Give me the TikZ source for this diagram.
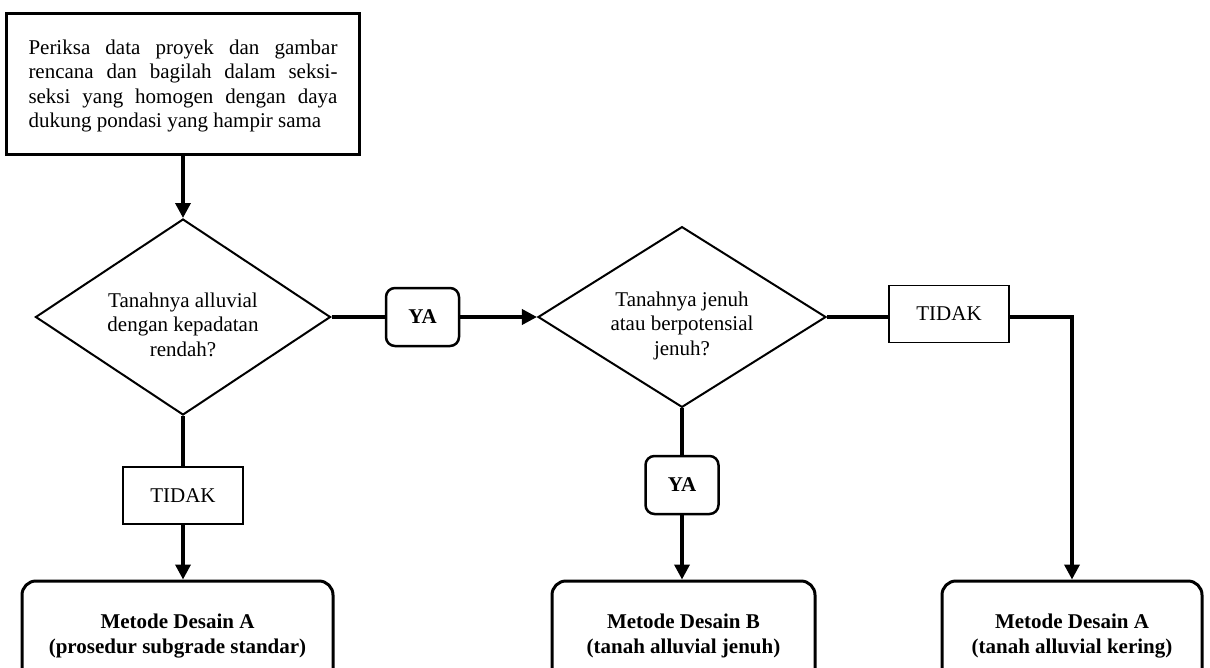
\documentclass[tikz,border=0pt]{standalone}
\usepackage{fontspec}
\setmainfont{Liberation Serif}
\usetikzlibrary{shapes.geometric}
\usetikzlibrary{arrows.meta}

\begin{document}
\begin{tikzpicture}[x=1pt, y=-1pt,
    font=\fontsize{21}{24.5}\selectfont,
    kotak/.style={rectangle, draw, line width=3pt, inner sep=0pt},
    keputusan/.style={diamond, draw, line width=2pt, aspect=1.5, inner sep=0pt, align=center},
    ya/.style={rectangle, draw, rounded corners=9pt, line width=2.5pt, minimum width=73pt, minimum height=58pt, font=\fontsize{21}{24.5}\selectfont\bfseries},
    tidak/.style={rectangle, draw, line width=1.5pt, minimum width=120pt, minimum height=57pt},
    hasil/.style={rectangle, draw, rounded corners=14pt, line width=3pt, align=center, minimum height=110pt, font=\fontsize{21}{24.5}\selectfont\bfseries},
    alur/.style={line width=3.5pt},
    panah/.style={alur, -{Triangle[length=15pt,width=15pt]}}]
\useasboundingbox (0,0) rectangle (1210,667);
\clip (0,0) rectangle (1210,667);

\node[kotak, minimum width=353pt, minimum height=141pt, text width=309pt, align=justify] (cek) at ( 183, 83.5 )
    {\tolerance=9999 \rule{0pt}{20pt}Periksa data proyek dan gambar\linebreak rencana dan bagilah dalam seksi-\linebreak seksi yang homogen dengan daya\linebreak dukung pondasi yang hampir sama};
\node[keputusan, minimum width=295pt, minimum height=196pt] (kep1) at ( 183, 317 )
    {\rule{0pt}{30pt}Tanahnya alluvial\\dengan kepadatan\\rendah?};
\node[ya]       (ya1)    at ( 422.5, 317 )  {YA};
\node[keputusan, minimum width=288pt, minimum height=178pt] (kep2) at ( 682, 317 )
    {\rule{0pt}{32pt}Tanahnya jenuh\\atau berpotensial\\jenuh?};
\node[tidak]    (tidak2) at ( 949, 314 )    {TIDAK};
\node[tidak]    (tidak1) at ( 183, 495.5 )  {TIDAK};
\node[ya]       (ya2)    at ( 682, 485 )    {YA};

% hasil akhir
\node[hasil, minimum width=311pt] (hasil1) at ( 177.5, 636 )  {Metode Desain A\\(prosedur subgrade standar)};
\node[hasil, minimum width=263pt] (hasil2) at ( 683.5, 636 )  {Metode Desain B\\(tanah alluvial jenuh)};
\node[hasil, minimum width=260pt] (hasil3) at ( 1072, 636 )   {Metode Desain A\\(tanah alluvial kering)};

\draw[panah] (cek) -- (kep1);
\draw[alur]  (kep1) -- (ya1);
\draw[panah] (ya1) -- (kep2);
\draw[alur]  (kep2) -- (kep2.east -| tidak2.west);
\draw[panah] (tidak2.east |- kep2.east) -| (hasil3.north);
\draw[alur]  (kep1) -- (tidak1);
\draw[panah] (tidak1) -- (tidak1 |- hasil1.north);
\draw[alur]  (kep2) -- (ya2);
\draw[panah] (ya2) -- (ya2 |- hasil2.north);
\end{tikzpicture}
\end{document}
